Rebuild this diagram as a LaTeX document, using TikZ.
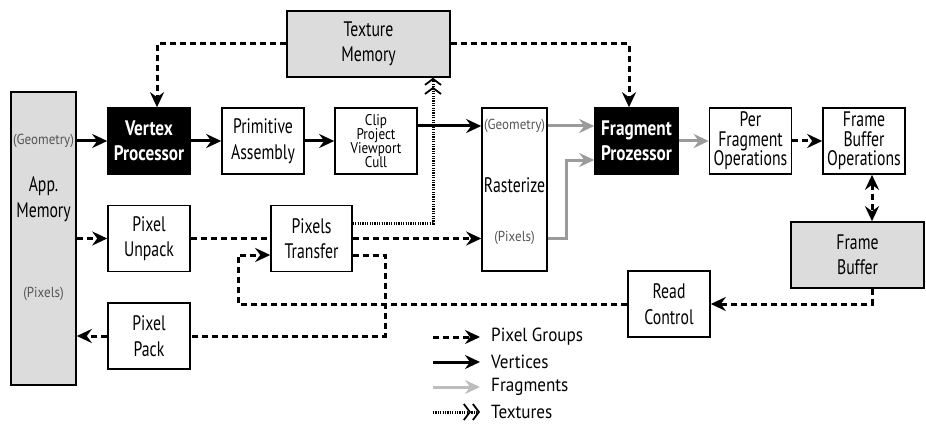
\documentclass[tikz,border=0pt]{standalone}
\usepackage{fontspec}
\usetikzlibrary{arrows.meta}
\newfontfamily\mainf{PT Sans}[FakeStretch=0.75]
\newfontfamily\boldf{PT Sans}[FakeStretch=0.82]
\newfontfamily\subf{PT Sans}[FakeStretch=0.9]
\newfontfamily\legf{PT Sans}[FakeStretch=0.9]
\newfontfamily\clipf{PT Sans}[FakeStretch=0.85]
\newcommand\mytight{\lineskiplimit=-30pt\relax}
\newcommand\boxfont{\mytight\mainf\fontsize{21}{25.5}\selectfont}
\newcommand\threefont{\mytight\mainf\fontsize{21}{19.5}\selectfont}
\newcommand\blackfont{\mytight\boldf\bfseries\fontsize{21}{25.5}\selectfont}
\newcommand\clipfont{\mytight\clipf\fontsize{15.5}{14}\selectfont}
\definecolor{memgray}{HTML}{DCDCDC}
\definecolor{fraggray}{HTML}{9B9B9B}
\definecolor{leggray}{HTML}{BDBDBD}
\definecolor{subgray}{HTML}{555555}
\begin{document}
\begin{tikzpicture}[x=1pt,y=-1pt,
  >={Stealth[length=15pt,width=14pt,inset=5pt]},
  box/.style={draw, line width=1.6pt, minimum width=82pt, minimum height=66pt, inner sep=0pt, align=center, font=\boxfont},
  threebox/.style={box, font=\threefont},
  blackbox/.style={box, fill=black, text=white, font=\blackfont},
  graybox/.style={box, fill=memgray},
  subtext/.style={inner sep=0pt, text=subgray, font=\subf\fontsize{14.5}{16}\selectfont},
  plaintext/.style={inner sep=0pt, align=center, font=\boxfont},
  legtext/.style={inner sep=0pt, anchor=west, font=\legf\fontsize{19}{20}\selectfont},
  vert/.style={->, line width=3pt, black},
  frag/.style={->, line width=3pt, fraggray},
  pix/.style={line width=3pt, dash pattern=on 6pt off 4pt},
  pixarrow/.style={pix, ->},
  tex/.style={line width=3pt, dash pattern=on 1.2pt off 1.2pt,
    -{Straight Barb[length=6pt,width=16pt,line width=1.8pt,sep=1pt] Straight Barb[length=6pt,width=16pt,line width=1.8pt]}}
]
\useasboundingbox (0,0) rectangle (926,425);

% nodes
\node[graybox, minimum width=65pt, minimum height=293pt] (appmem) at (43.5,238.5) {};
\node[subtext] (appgeo) at (43.5,141) {(Geometry)};
\node[plaintext] (applbl) at (43.5,199) {App.\\Memory};
\node[subtext] (apppix) at (43.5,294) {(Pixels)};

\node[graybox, minimum width=163pt] (tm) at (368.5,44) {Texture\\Memory};
\node[blackbox] (vp) at (149,141) {Vertex\\Processor};
\node[box] (pa) at (263,141) {Primitive\\Assembly};
\node[box, font=\clipfont] (clip) at (376,141) {Clip\\Project\\Viewport\\Cull};

\node[box, minimum width=65pt, minimum height=163pt] (rast) at (514.5,189.5) {};
\node[subtext] (rastgeo) at (514.5,126) {(Geometry)};
\node[plaintext] (rastlbl) at (514.5,185) {Rasterize};
\node[subtext] (rastpix) at (514.5,238) {(Pixels)};

\node[blackbox, minimum width=83pt] (fp) at (636.5,141) {Fragment\\Prozessor};
\node[threebox] (pfo) at (750.5,141) {Per\\Fragment\\Operations};
\node[threebox] (fbo) at (864,141) {Frame\\Buffer\\Operations};
\node[graybox, minimum width=133pt] (fb) at (857.5,255) {Frame\\Buffer};

\node[box] (pu) at (149,238.5) {Pixel\\Unpack};
\node[box, minimum width=81pt] (pt) at (311.5,238.5) {Pixels\\Transfer};
\node[box] (pp) at (149,336) {Pixel\\Pack};
\node[box] (rc) at (669,304) {Read\\Control};

% helper coordinates
\coordinate (geoY) at (0,126);
\coordinate (rpix) at (566,238);
\coordinate (rgeo2) at (566,160);
\coordinate (fbX) at (872,0);
\coordinate (loopc) at (238,255);
\coordinate (texY) at (0,223);
\coordinate (texX) at (433,0);
\coordinate (ppc) at (385,336);

% texture memory to processors
\draw[pixarrow] (tm.west) -| ([xshift=8pt]vp.north);
\draw[pixarrow] (tm.east) -| ([xshift=-7.5pt]fp.north);

% vertices
\draw[vert] (appmem.east |- vp.west) -- (vp.west);
\draw[vert] (vp.east) -- (pa.west);
\draw[vert] (pa.east) -- (clip.west);
\draw[vert] (clip.east |- geoY) -- (rast.west |- geoY);

% fragments
\draw[frag] (rast.east |- geoY) -- (fp.west |- geoY);
\draw[frag] (rast.east |- rpix) -- (rpix) -- (rgeo2) -- (fp.west |- rgeo2);
\draw[frag] (fp.east) -- (pfo.west);

% pixel groups
\draw[pixarrow] (pfo.east) -- (fbo.west);
\draw[pix, <->] (fbo.south -| fbX) -- (fb.north -| fbX);
\draw[pixarrow] (fb.south -| fbX) |- (rc.east);
\draw[pixarrow] (rc.west) -| (loopc) -- (pt.west |- loopc);
\draw[pixarrow] (appmem.east |- pu.west) -- (pu.west);
\draw[pix] (pu.east) -- (pt.west);
\draw[pixarrow] (pt.east) -- (rast.west |- pt.east);
\draw[pix] (pt.east |- loopc) -| (ppc) -- (pp.east);
\draw[pixarrow] (pp.west) -- (appmem.east |- pp.west);

% textures
\draw[tex] (pt.east |- texY) -| (tm.south -| texX);

% legend
\node[legtext] (lg1) at (491,337) {Pixel Groups};
\node[legtext] (lg2) at (491,362) {Vertices};
\node[legtext] (lg3) at (491,387) {Fragments};
\node[legtext] (lg4) at (491,412) {Textures};
\coordinate (la1) at (433,337);
\coordinate (la2) at (433,362);
\coordinate (la3) at (433,387);
\coordinate (la4) at (433,412);
\draw[pixarrow, shorten >=11pt] (la1) -- (lg1.west);
\draw[vert, shorten >=11pt] (la2) -- (lg2.west);
\draw[frag, leggray, shorten >=11pt] (la3) -- (lg3.west);
\draw[tex, shorten >=11pt] (la4) -- (lg4.west);
\end{tikzpicture}
\end{document}
